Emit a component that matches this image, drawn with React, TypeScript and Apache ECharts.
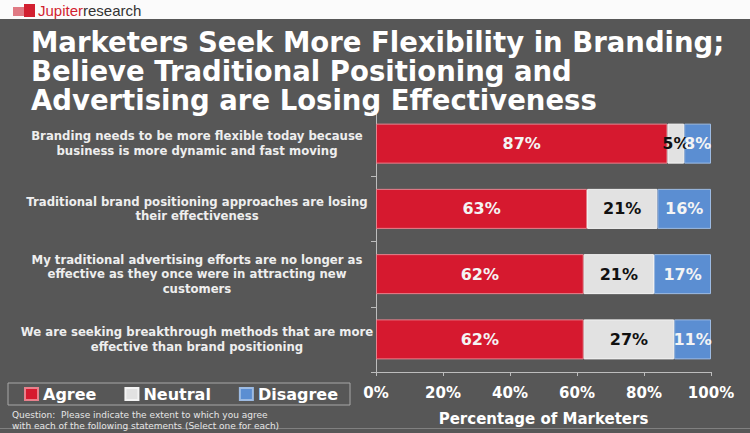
import React, { useEffect, useRef } from "react";
import * as echarts from "echarts";

const categories = [
  "Branding needs to be more flexible today because\nbusiness is more dynamic and fast moving",
  "Traditional brand positioning approaches are losing\ntheir effectiveness",
  "My traditional advertising efforts are no longer as\neffective as they once were in attracting new\ncustomers",
  "We are seeking breakthrough methods that are more\neffective than brand positioning",
];
const agree = [87, 63, 62, 62];
const neutral = [5, 21, 21, 27];
const disagree = [8, 16, 17, 11];
const xTicks = { min: 0, max: 100, interval: 20 };

const titleText =
  "Marketers Seek More Flexibility in Branding;\nBelieve Traditional Positioning and\nAdvertising are Losing Effectiveness";
const questionText =
  "Question:  Please indicate the extent to which you agree\nwith each of the following statements (Select one for each)";

const FONT = "DejaVu Sans";

export default function App() {
  const ref = useRef<HTMLDivElement>(null);
  useEffect(() => {
    if (!ref.current) return;
    const chart = echarts.init(ref.current, null, { renderer: "svg" });
    const labelStyle = (color: string) => ({
      show: true,
      position: "inside",
      formatter: "{c}%",
      color,
      fontFamily: FONT,
      fontWeight: "bold",
      fontSize: 16,
    });
    chart.setOption({
      animation: false,
      backgroundColor: "#575757",
      title: {
        text: titleText,
        left: 31,
        top: 27,
        padding: 0,
        textStyle: {
          color: "#ffffff",
          fontFamily: FONT,
          fontWeight: "bold",
          fontSize: 27.5,
          lineHeight: 29,
        },
      },
      graphic: [
        { type: "rect", left: 0, top: 0, shape: { width: 750, height: 19 }, style: { fill: "#fbfbfb" } },
        { type: "rect", left: 0, top: 428, shape: { width: 750, height: 1 }, style: { fill: "#808080" } },
        { type: "rect", left: 13, top: 7, shape: { width: 11, height: 9 }, style: { fill: "#e07a84" } },
        { type: "rect", left: 24, top: 4, shape: { width: 11, height: 13 }, style: { fill: "#d21f30" } },
        {
          type: "text",
          left: 38,
          top: 3,
          style: {
            text: "{a|Jupiter}{b|research}",
            rich: {
              a: { fill: "#d21f30", fontFamily: "Liberation Sans", fontSize: 15 },
              b: { fill: "#333333", fontFamily: "Liberation Sans", fontSize: 15 },
            },
          },
        },
        {
          type: "text",
          left: 12,
          top: 409,
          style: {
            text: questionText,
            fill: "#e6e6e6",
            fontFamily: FONT,
            fontSize: 9,
            lineHeight: 11,
          },
        },
      ],
      legend: {
        data: ["Agree", "Neutral", "Disagree"],
        left: 8,
        top: 383,
        icon: "rect",
        itemWidth: 13,
        itemHeight: 12,
        itemGap: 28,
        borderColor: "#a8a8a8",
        borderWidth: 1,
        padding: [3, 12, 3, 16],
        textStyle: { color: "#ffffff", fontFamily: FONT, fontWeight: "bold", fontSize: 16 },
      },
      grid: { left: 376, right: 39, top: 111, bottom: 61, containLabel: false },
      xAxis: {
        type: "value",
        min: xTicks.min,
        max: xTicks.max,
        interval: xTicks.interval,
        axisLine: { show: true, lineStyle: { color: "#bdbdbd" } },
        axisTick: { show: true, length: 4, lineStyle: { color: "#bdbdbd" } },
        splitLine: { show: false },
        axisLabel: {
          formatter: "{value}%",
          color: "#ffffff",
          fontFamily: FONT,
          fontWeight: "bold",
          fontSize: 15,
          margin: 13,
        },
        name: "Percentage of Marketers",
        nameLocation: "middle",
        nameGap: 39,
        nameTextStyle: { color: "#ffffff", fontFamily: FONT, fontWeight: "bold", fontSize: 15 },
      },
      yAxis: {
        type: "category",
        inverse: true,
        data: categories,
        axisLine: { show: true, lineStyle: { color: "#bdbdbd" } },
        axisTick: { show: true, length: 5, lineStyle: { color: "#bdbdbd" } },
        axisLabel: {
          align: "center",
          margin: 179,
          color: "#eeeeee",
          fontFamily: FONT,
          fontWeight: "bold",
          fontSize: 11.7,
          lineHeight: 14.5,
        },
      },
      series: [
        {
          name: "Agree",
          type: "bar",
          stack: "total",
          barWidth: 40,
          data: agree,
          itemStyle: { color: "#d6192f", borderColor: "#e8808c", borderWidth: 1 },
          label: labelStyle("#f4f4f4"),
        },
        {
          name: "Neutral",
          type: "bar",
          stack: "total",
          barWidth: 40,
          data: neutral,
          itemStyle: { color: "#e2e2e2", borderColor: "#f4f4f4", borderWidth: 1 },
          label: labelStyle("#111111"),
        },
        {
          name: "Disagree",
          type: "bar",
          stack: "total",
          barWidth: 40,
          data: disagree,
          itemStyle: { color: "#5b8ed2", borderColor: "#9dbbe3", borderWidth: 1 },
          label: labelStyle("#f4f4f4"),
        },
      ],
    });
    return () => chart.dispose();
  }, []);
  return (
    <div
      ref={ref}
      style={{ position: "absolute", left: 0, top: 0, width: 750, height: 433 }}
    />
  );
}
